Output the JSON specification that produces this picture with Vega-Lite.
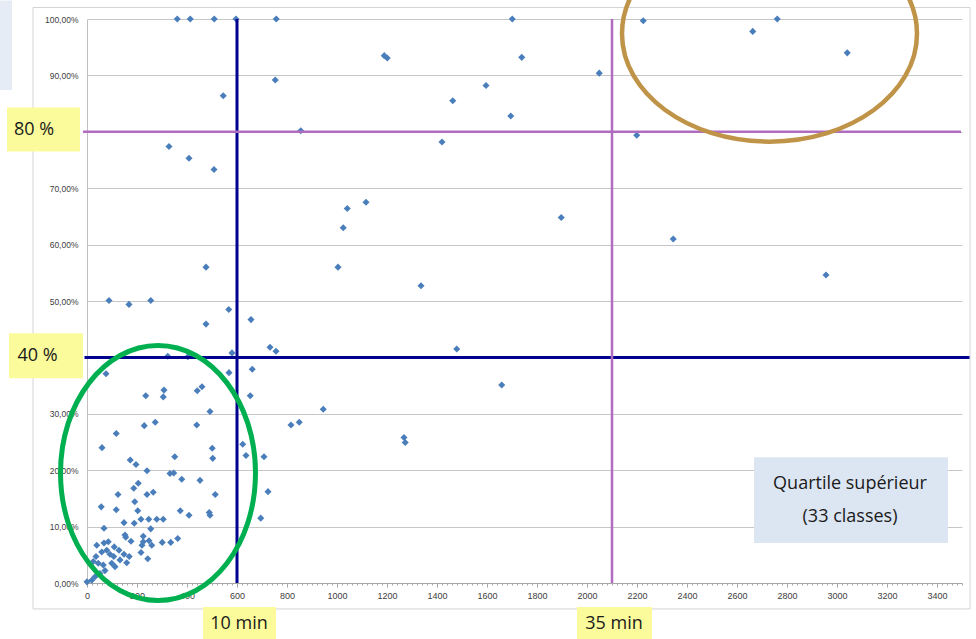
{
  "$schema": "https://vega.github.io/schema/vega-lite/v6.json",
  "width": 875,
  "height": 564,
  "autosize": "none",
  "padding": {"left": 87, "top": 19, "right": 14, "bottom": 56},
  "background": "white",
  "config": {"view": {"stroke": null}},
  "data": {"values": [{}]},
  "layer": [
    {
      "mark": {"type": "rect", "filled": false, "color": "#d4d4d4", "strokeWidth": 1},
      "encoding": {
        "x": {"datum": -216, "type": "quantitative"},
        "x2": {"datum": 3532},
        "y": {"datum": 1.0204, "type": "quantitative"},
        "y2": {"datum": -0.046}
      }
    },
    {
      "mark": {"type": "rect", "color": "#e6ecf5"},
      "encoding": {
        "x": {"datum": -348, "type": "quantitative"},
        "x2": {"datum": -300},
        "y": {"datum": 1.033, "type": "quantitative"},
        "y2": {"datum": 0.874}
      }
    },
    {
      "data": {"name": "points", "values": [
        {"t": 361, "p": 1.0}, {"t": 413, "p": 1.0}, {"t": 509, "p": 1.0}, {"t": 596, "p": 1.0}, {"t": 757, "p": 1.0},
        {"t": 545, "p": 0.864}, {"t": 753, "p": 0.892}, {"t": 855, "p": 0.802}, {"t": 328, "p": 0.774}, {"t": 408, "p": 0.753}, {"t": 508, "p": 0.733},
        {"t": 476, "p": 0.560}, {"t": 88, "p": 0.501}, {"t": 168, "p": 0.494}, {"t": 255, "p": 0.501}, {"t": 567, "p": 0.485}, {"t": 476, "p": 0.459}, {"t": 656, "p": 0.467},
        {"t": 580, "p": 0.408}, {"t": 323, "p": 0.402}, {"t": 403, "p": 0.401}, {"t": 732, "p": 0.418}, {"t": 756, "p": 0.411},
        {"t": 568, "p": 0.373}, {"t": 76, "p": 0.371}, {"t": 661, "p": 0.379},
        {"t": 235, "p": 0.332}, {"t": 308, "p": 0.342}, {"t": 305, "p": 0.330}, {"t": 441, "p": 0.341}, {"t": 460, "p": 0.348}, {"t": 653, "p": 0.332},
        {"t": 945, "p": 0.308}, {"t": 492, "p": 0.304}, {"t": 117, "p": 0.265}, {"t": 229, "p": 0.279}, {"t": 273, "p": 0.285}, {"t": 439, "p": 0.280}, {"t": 816, "p": 0.280}, {"t": 849, "p": 0.285},
        {"t": 60, "p": 0.240}, {"t": 501, "p": 0.239}, {"t": 503, "p": 0.221}, {"t": 623, "p": 0.246}, {"t": 636, "p": 0.226}, {"t": 708, "p": 0.224},
        {"t": 173, "p": 0.218}, {"t": 196, "p": 0.210}, {"t": 351, "p": 0.224}, {"t": 240, "p": 0.199}, {"t": 332, "p": 0.194}, {"t": 347, "p": 0.195}, {"t": 379, "p": 0.184}, {"t": 452, "p": 0.182},
        {"t": 205, "p": 0.177}, {"t": 187, "p": 0.168}, {"t": 240, "p": 0.157}, {"t": 265, "p": 0.161}, {"t": 124, "p": 0.157}, {"t": 513, "p": 0.157}, {"t": 724, "p": 0.162},
        {"t": 191, "p": 0.144}, {"t": 57, "p": 0.135}, {"t": 117, "p": 0.130}, {"t": 203, "p": 0.128}, {"t": 373, "p": 0.128}, {"t": 408, "p": 0.120}, {"t": 489, "p": 0.125}, {"t": 492, "p": 0.120}, {"t": 695, "p": 0.115},
        {"t": 68, "p": 0.097}, {"t": 148, "p": 0.107}, {"t": 189, "p": 0.106}, {"t": 216, "p": 0.113}, {"t": 247, "p": 0.113}, {"t": 279, "p": 0.113}, {"t": 305, "p": 0.113}, {"t": 255, "p": 0.096},
        {"t": 152, "p": 0.085}, {"t": 155, "p": 0.081}, {"t": 176, "p": 0.074}, {"t": 225, "p": 0.083}, {"t": 225, "p": 0.073}, {"t": 248, "p": 0.075}, {"t": 259, "p": 0.067}, {"t": 301, "p": 0.072}, {"t": 335, "p": 0.072}, {"t": 363, "p": 0.079}, {"t": 243, "p": 0.043}, {"t": 220, "p": 0.067}, {"t": 216, "p": 0.054},
        {"t": 39, "p": 0.067}, {"t": 68, "p": 0.071}, {"t": 85, "p": 0.073}, {"t": 109, "p": 0.064}, {"t": 128, "p": 0.058}, {"t": 148, "p": 0.051}, {"t": 169, "p": 0.047}, {"t": 159, "p": 0.036}, {"t": 92, "p": 0.051}, {"t": 79, "p": 0.058}, {"t": 59, "p": 0.055}, {"t": 36, "p": 0.047}, {"t": 25, "p": 0.038}, {"t": 45, "p": 0.035}, {"t": 65, "p": 0.032}, {"t": 99, "p": 0.035}, {"t": 112, "p": 0.029}, {"t": 72, "p": 0.022}, {"t": 52, "p": 0.017}, {"t": 32, "p": 0.011}, {"t": 0, "p": 0.002}, {"t": 19, "p": 0.005}, {"t": 132, "p": 0.041}, {"t": 107, "p": 0.047},
        {"t": 1701, "p": 1.0}, {"t": 1189, "p": 0.935}, {"t": 1201, "p": 0.931}, {"t": 1739, "p": 0.932}, {"t": 2049, "p": 0.904}, {"t": 1596, "p": 0.882}, {"t": 1463, "p": 0.855}, {"t": 1695, "p": 0.828}, {"t": 1420, "p": 0.782}, {"t": 2199, "p": 0.794}, {"t": 2225, "p": 0.997},
        {"t": 1116, "p": 0.675}, {"t": 1041, "p": 0.664}, {"t": 1025, "p": 0.630}, {"t": 1897, "p": 0.648}, {"t": 1004, "p": 0.560}, {"t": 1336, "p": 0.527},
        {"t": 2663, "p": 0.978}, {"t": 2761, "p": 1.0}, {"t": 3041, "p": 0.940}, {"t": 2345, "p": 0.610}, {"t": 2956, "p": 0.546},
        {"t": 1479, "p": 0.415}, {"t": 1659, "p": 0.351}, {"t": 1268, "p": 0.258}, {"t": 1273, "p": 0.249}
      ]},
      "mark": {"type": "point", "shape": "diamond", "filled": true, "size": 50, "color": "#4a7ebb", "opacity": 1},
      "encoding": {
        "x": {
          "field": "t", "type": "quantitative",
          "scale": {"domain": [0, 3500], "nice": false, "zero": false},
          "axis": {
            "title": null, "grid": false, "tickCount": 175,
            "labelExpr": "datum.value % 200 === 0 ? format(datum.value, 'd') : ''",
            "labelOverlap": false, "labelFlush": false,
            "tickSize": {"condition": {"test": "datum.value % 200 === 0", "value": 4}, "value": 2},
            "tickColor": "#a6a6a6", "domainColor": "#a6a6a6",
            "labelFont": "Liberation Sans", "labelFontSize": 9, "labelColor": "#404040", "labelPadding": 4
          }
        },
        "y": {
          "field": "p", "type": "quantitative",
          "scale": {"domain": [0, 1], "nice": false},
          "axis": {
            "title": null, "grid": true, "gridColor": "#c6c6c6", "ticks": false,
            "values": [0, 0.1, 0.2, 0.3, 0.4, 0.5, 0.6, 0.7, 0.8, 0.9, 1.0],
            "labelExpr": "abs(datum.value - 0.4) < 0.001 || abs(datum.value - 0.8) < 0.001 ? '' : replace(format(datum.value, '.2%'), '.', ',')",
            "domainColor": "#c0c0c0", "labelFont": "Liberation Sans", "labelFontSize": 8.5, "labelColor": "#404040", "labelPadding": 9
          }
        }
      }
    },
    {
      "mark": {"type": "rule", "color": "#00008f", "strokeWidth": 3},
      "encoding": {
        "x": {"datum": 600, "type": "quantitative"},
        "y": {"datum": 1.0, "type": "quantitative"},
        "y2": {"datum": 0}
      }
    },
    {
      "mark": {"type": "rule", "color": "#00008f", "strokeWidth": 3},
      "encoding": {
        "x": {"datum": -10, "type": "quantitative"},
        "x2": {"datum": 3530},
        "y": {"datum": 0.4, "type": "quantitative"}
      }
    },
    {
      "mark": {"type": "rule", "color": "#b06cbf", "strokeWidth": 2.5},
      "encoding": {
        "x": {"datum": -16, "type": "quantitative"},
        "x2": {"datum": 3496},
        "y": {"datum": 0.8, "type": "quantitative"}
      }
    },
    {
      "mark": {"type": "rule", "color": "#b06cbf", "strokeWidth": 2.5},
      "encoding": {
        "x": {"datum": 2100, "type": "quantitative"},
        "y": {"datum": 1.0, "type": "quantitative"},
        "y2": {"datum": 0}
      }
    },
    {
      "mark": {"type": "point", "filled": false, "color": "#00b050", "strokeWidth": 5, "opacity": 1, "size": 65025,
        "shape": "M 0 -1 C 0.4223 -1 0.7647 -0.5523 0.7647 0 C 0.7647 0.5523 0.4223 1 0 1 C -0.4223 1 -0.7647 0.5523 -0.7647 0 C -0.7647 -0.5523 -0.4223 -1 0 -1 Z"},
      "encoding": {
        "x": {"datum": 284, "type": "quantitative"},
        "y": {"datum": 0.195, "type": "quantitative"}
      }
    },
    {
      "mark": {"type": "point", "filled": false, "color": "#c09448", "strokeWidth": 4.5, "opacity": 1, "size": 46656,
        "shape": "M 0 -1 C 0.7543 -1 1.3657 -0.5523 1.3657 0 C 1.3657 0.5523 0.7543 1 0 1 C -0.7543 1 -1.3657 0.5523 -1.3657 0 C -1.3657 -0.5523 -0.7543 -1 0 -1 Z"},
      "encoding": {
        "x": {"datum": 2730, "type": "quantitative"},
        "y": {"datum": 0.974, "type": "quantitative"}
      }
    },
    {
      "mark": {"type": "rect", "color": "#fbfb9b"},
      "encoding": {
        "x": {"datum": -320, "type": "quantitative"},
        "x2": {"datum": -28},
        "y": {"datum": 0.843, "type": "quantitative"},
        "y2": {"datum": 0.765}
      }
    },
    {
      "mark": {"type": "rect", "color": "#fbfb9b"},
      "encoding": {
        "x": {"datum": -312, "type": "quantitative"},
        "x2": {"datum": -16},
        "y": {"datum": 0.443, "type": "quantitative"},
        "y2": {"datum": 0.363}
      }
    },
    {
      "mark": {"type": "rect", "color": "#fbfb9b"},
      "encoding": {
        "x": {"datum": 464, "type": "quantitative"},
        "x2": {"datum": 756},
        "y": {"datum": -0.0425, "type": "quantitative"},
        "y2": {"datum": -0.1}
      }
    },
    {
      "mark": {"type": "rect", "color": "#fbfb9b"},
      "encoding": {
        "x": {"datum": 1960, "type": "quantitative"},
        "x2": {"datum": 2260},
        "y": {"datum": -0.0425, "type": "quantitative"},
        "y2": {"datum": -0.1}
      }
    },
    {
      "mark": {"type": "text", "text": "80 %", "font": "Open Sans", "fontSize": 18, "color": "#1a1a1a", "align": "center", "baseline": "middle"},
      "encoding": {
        "x": {"datum": -212, "type": "quantitative"},
        "y": {"datum": 0.804, "type": "quantitative"}
      }
    },
    {
      "mark": {"type": "text", "text": "40 %", "font": "Open Sans", "fontSize": 18, "color": "#1a1a1a", "align": "center", "baseline": "middle"},
      "encoding": {
        "x": {"datum": -198, "type": "quantitative"},
        "y": {"datum": 0.402, "type": "quantitative"}
      }
    },
    {
      "mark": {"type": "text", "text": "10 min", "font": "Open Sans", "fontSize": 18, "color": "#1a1a1a", "align": "center", "baseline": "middle"},
      "encoding": {
        "x": {"datum": 608, "type": "quantitative"},
        "y": {"datum": -0.072, "type": "quantitative"}
      }
    },
    {
      "mark": {"type": "text", "text": "35 min", "font": "Open Sans", "fontSize": 18, "color": "#1a1a1a", "align": "center", "baseline": "middle"},
      "encoding": {
        "x": {"datum": 2108, "type": "quantitative"},
        "y": {"datum": -0.072, "type": "quantitative"}
      }
    },
    {
      "mark": {"type": "rect", "color": "#dce6f2"},
      "encoding": {
        "x": {"datum": 2668, "type": "quantitative"},
        "x2": {"datum": 3444},
        "y": {"datum": 0.223, "type": "quantitative"},
        "y2": {"datum": 0.071}
      }
    },
    {
      "mark": {"type": "text", "text": "Quartile supérieur", "font": "Open Sans", "fontSize": 18, "color": "#1a1a1a", "align": "center", "baseline": "middle"},
      "encoding": {
        "x": {"datum": 3052, "type": "quantitative"},
        "y": {"datum": 0.175, "type": "quantitative"}
      }
    },
    {
      "mark": {"type": "text", "text": "(33 classes)", "font": "Open Sans", "fontSize": 18, "color": "#1a1a1a", "align": "center", "baseline": "middle"},
      "encoding": {
        "x": {"datum": 3052, "type": "quantitative"},
        "y": {"datum": 0.117, "type": "quantitative"}
      }
    }
  ]
}
